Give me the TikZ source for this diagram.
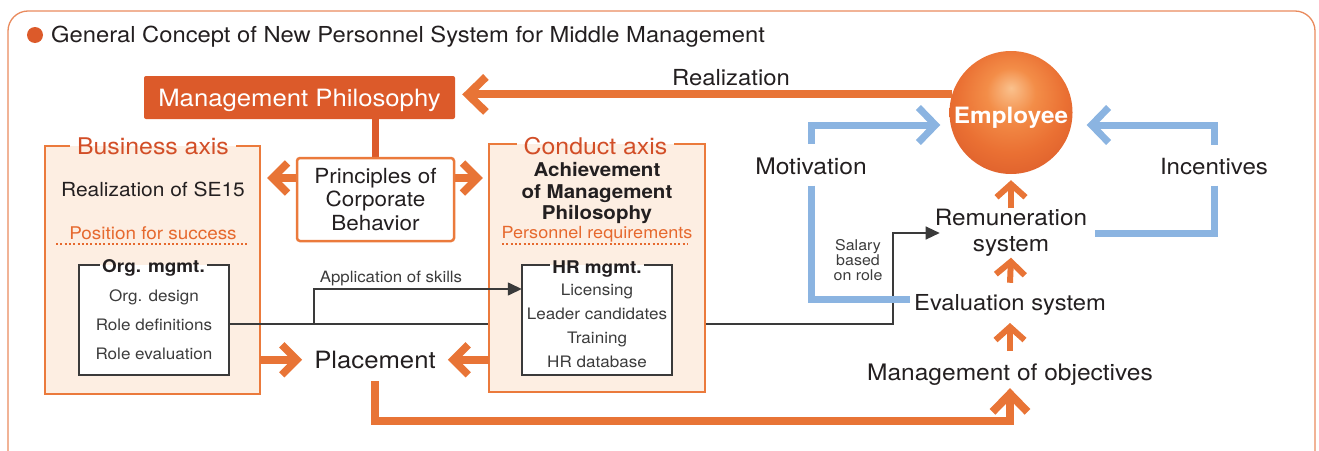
\documentclass[tikz,border=0pt]{standalone}
\usepackage{fontspec}
\setmainfont{TeX Gyre Heros}[FakeStretch=1.08]
\usetikzlibrary{arrows.meta}
\definecolor{mpo}{HTML}{DC5A2A}
\definecolor{arro}{HTML}{E87436}
\definecolor{boxo}{HTML}{EB7A3C}
\definecolor{peach}{HTML}{FDEEE2}
\definecolor{axist}{HTML}{D24E27}
\definecolor{subo}{HTML}{E6692E}
\definecolor{blu}{HTML}{8BB4E1}
\definecolor{txt}{HTML}{231F20}
\definecolor{gtxt}{HTML}{3C3C3C}
\definecolor{boxg}{HTML}{3A3A3A}
\definecolor{frame}{HTML}{E98B5E}
\definecolor{emphl}{HTML}{FAC18D}
\definecolor{empmid}{HTML}{F38D48}
\definecolor{empo}{HTML}{EA7033}
\definecolor{empedge}{HTML}{DA5A2A}
\pgfdeclareradialshading{empshade}{\pgfpoint{0bp}{10bp}}{color(0bp)=(emphl); color(10bp)=(empmid); color(22bp)=(empo); color(35bp)=(empedge); color(50bp)=(empedge)}
\newcommand\myfs[2]{\fontsize{#1}{#2}\selectfont}
\begin{document}
\begin{tikzpicture}[x=1pt,y=-1pt,
  every node/.style={text=txt, inner sep=0pt},
  lab/.style={anchor=base, font=\myfs{22.5}{26}},
  item/.style={anchor=base, font=\myfs{15.8}{19}, text=gtxt},
  axtitle/.style={anchor=base, font=\myfs{23}{27}, text=axist, inner xsep=7pt},
  subtitle/.style={anchor=base, font=\myfs{17}{20}, text=subo},
  boxtitle/.style={anchor=base, font=\bfseries\myfs{17.5}{20}, inner xsep=2pt},
  bord/.style={draw=boxo, line width=2.2pt},
  gbord/.style={draw=boxg, line width=1.5pt},
  dots/.style={draw=subo, line width=2pt, dash pattern=on 2pt off 2.3pt},
  oarr/.style={draw=arro, line width=7.5pt, -{Straight Barb[length=15pt,width=30pt]}},
  bigarr/.style={draw=arro, line width=8pt, -{Straight Barb[length=18pt,width=35pt]}},
  sarr/.style={draw=arro, line width=6pt, -{Straight Barb[length=13pt,width=29pt]}},
  barr/.style={draw=blu, line width=7pt, -{Straight Barb[length=17pt,width=35pt]}},
  bline/.style={draw=blu, line width=7pt},
  karr/.style={draw=boxg, line width=1.4pt, -{Triangle[length=14pt,width=13pt]}}]
\useasboundingbox (0,0) rectangle (1319,450);
% outer frame
\draw[draw=frame, line width=1.3pt, rounded corners=20pt] (8,11) rectangle (1315,490);
\fill[mpo] (35,35) circle (8pt);
\node[anchor=base west, font=\myfs{22}{26}] (title) at (51,42) {General Concept of New Personnel System for Middle Management};

% coordinates
\coordinate (ly) at (0,324);
\coordinate (apx) at (314,289);
\coordinate (salx) at (893,0);
\coordinate (ay) at (0,178);
\coordinate (by) at (0,125);
\coordinate (ev) at (0,299);
\coordinate (bl) at (0,421);

% Management philosophy
\node[fill=mpo, rounded corners=2pt, minimum width=311pt, minimum height=43pt, text=white,
      font=\myfs{23.8}{28}, text height=17pt, text depth=0pt] (mp) at (299.5,97.5) {Management Philosophy};

% right-hand labels
\node[lab, font=\myfs{22.1}{26}] (real) at (731,85) {Realization};
\node[font=\myfs{22.5}{25.7}, align=center] (remun) at (1011,233) {Remuneration\\system};
\node[lab, font=\myfs{22}{26}] (eval) at (1010,310) {Evaluation system};
\node[lab, font=\myfs{22.7}{26}] (mobj) at (1010,380) {Management of objectives};
\node[lab, font=\myfs{22.8}{26}] (mot) at (811,174) {Motivation};
\node[lab, font=\myfs{22.3}{26}] (inc) at (1214,174) {Incentives};
\node[font=\myfs{14.8}{15.4}, align=center, text=gtxt] (sal) at (858,260) {Salary\\based\\on role};

% Business axis box
\node[fill=peach, minimum width=215pt, minimum height=248pt] (ba) at (152.5,270) {};
\node[axtitle] (bat) at (153,154) {Business axis};
\draw[bord] (bat.east |- ba.north) -- (ba.north east) -- (ba.south east) -- (ba.south west) -- (ba.north west) -- (bat.west |- ba.north);
\node[anchor=base, font=\myfs{19.4}{23}] (se15) at (153,196) {Realization of SE15};
\node[subtitle, font=\myfs{17.5}{20}] (pfs) at (153,239) {Position for success};
\draw[dots] (56,244) -- (249,244);
\node[fill=white, minimum width=150pt, minimum height=110pt] (org) at (154,320) {};
\node[boxtitle] (orgt) at (153.5,272.7) {Org. mgmt.};
\draw[gbord] (orgt.east |- org.north) -- (org.north east) -- (org.south east) -- (org.south west) -- (org.north west) -- (orgt.west |- org.north);
\node[item] (o1) at (154,301.7) {Org. design};
\node[item] (o2) at (154,330) {Role definitions};
\node[item] (o3) at (154,359.5) {Role evaluation};

% Placement
\node[lab, font=\myfs{23.8}{28}] (place) at (375,368.3) {Placement};

% black connectors (behind conduct box)
\node[anchor=base, font=\myfs{15.6}{18}, text=gtxt] (aps) at (391,282.7) {Application of skills};
\draw[karr] (org.east |- ly) -- (ly -| salx) |- ([xshift=5pt]remun.west);

% Conduct axis box
\node[fill=peach, minimum width=216pt, minimum height=248pt] (ca) at (597,268) {};
\node[axtitle] (cat) at (595.5,154) {Conduct axis};
\draw[bord] (cat.east |- ca.north) -- (ca.north east) -- (ca.south east) -- (ca.south west) -- (ca.north west) -- (cat.west |- ca.north);
\node[font=\bfseries\myfs{19}{21.6}, align=center] (ach) at (597,193) {Achievement\\of Management\\Philosophy};
\node[subtitle, font=\myfs{16.7}{20}] (pr) at (597,238.3) {Personnel requirements};
\draw[dots] (502,244) -- (687,244);
\node[fill=white, minimum width=150pt, minimum height=110pt] (hr) at (597,320) {};
\node[boxtitle] (hrt) at (597,273.3) {HR mgmt.};
\draw[gbord] (hrt.east |- hr.north) -- (hr.north east) -- (hr.south east) -- (hr.south west) -- (hr.north west) -- (hrt.west |- hr.north);
\node[item] (h1) at (597,295.7) {Licensing};
\node[item] (h2) at (597,319.3) {Leader candidates};
\node[item] (h3) at (597,343.3) {Training};
\node[item] (h4) at (597,367.3) {HR database};
\draw[karr] (apx |- ly) -- (apx) -- (hr.west |- apx);

% orange arrows
\draw[draw=mpo, line width=7.5pt] (mp.south -| 375.5,0) -- (375.5,158);
\draw[oarr, shorten >=7pt] (375.5,178) -- (ba.east |- ay);
\draw[oarr, shorten >=6pt] (375.5,178) -- (ca.west |- ay);
\node[draw=boxo, line width=2.5pt, fill=white, rounded corners=3pt, minimum width=157pt, minimum height=83pt,
      align=center, font=\myfs{20.8}{23.8}] (princ) at (375.5,199.5) {Principles of\\Corporate\\Behavior};
\draw[oarr, shorten >=12pt] (ba.east |- place) -- (place.west);
\draw[oarr, shorten >=12pt] (ca.west |- place) -- (place.east);
\coordinate (pl1) at ([yshift=-12pt]place.south);
\coordinate (mo1) at ([yshift=-3pt]mobj.south);
\draw[bigarr] (pl1) |- (mobj.south |- bl) -- (mo1);

% Employee
\node[circle, minimum size=123pt, shade, shading=empshade, text=white,
      font=\bfseries\myfs{22.5}{26}, text height=22pt, text depth=0pt] (emp) at (1011,112.5) {Employee};
\draw[bigarr, shorten >=7pt] (emp.163) -- (emp.163 -| mp.east);
\draw[sarr] ([yshift=1pt]remun.north) -- ([yshift=-6pt]emp.south);
\draw[sarr] ([yshift=11pt]eval.north) -- ([yshift=-1pt]remun.south);
\draw[sarr] ([yshift=12pt]mobj.north) -- ([yshift=-8pt]eval.south);

% blue
\coordinate (mt) at ([yshift=13pt]mot.north);
\coordinate (itp) at ([yshift=13pt]inc.north);
\coordinate (evl) at ([xshift=-4pt]eval.west);
\coordinate (rmr) at ([xshift=8pt]remun.east);
\draw[barr, shorten >=9pt] (mt) |- (emp.west |- by);
\draw[barr, shorten >=14pt] (itp) |- (emp.east |- by);
\draw[bline] ([yshift=-11pt]mot.south) |- (evl |- ev);
\draw[bline] ([yshift=-11pt]inc.south) |- (rmr);
\end{tikzpicture}
\end{document}
